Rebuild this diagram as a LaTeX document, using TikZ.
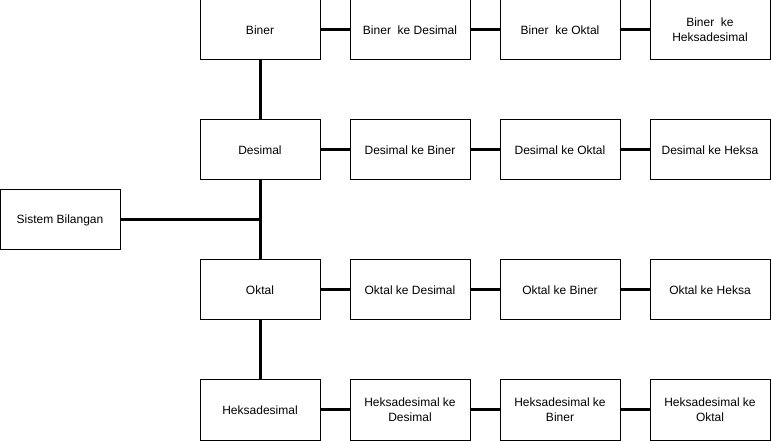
\documentclass[tikz,border=0pt]{standalone}
\usepackage{fontspec}
\setmainfont{Liberation Sans}
\usetikzlibrary{positioning}

\begin{document}
\begin{tikzpicture}[x=0.75pt, y=-0.75pt,
    box/.style={rectangle, draw=black, line width=0.75pt, minimum width=90pt, minimum height=45pt, align=center, font=\fontsize{9}{11}\selectfont, inner sep=1pt},
    link/.style={line width=2.25pt, black}
]
\useasboundingbox (0,0) rectangle (771,441);

% Root
\node[box] (sistem) at (60,220) {Sistem Bilangan};

% Main column
\node[box] (biner) at (260,30) {Biner};
\node[box] (desimal) at (260,150) {Desimal};
\node[box] (oktal) at (260,290) {Oktal};
\node[box] (heksa) at (260,410) {Heksadesimal};

% Biner row
\node[box] (binerdes) at (410,30) {Biner~ ke Desimal};
\node[box] (binerokt) at (560,30) {Biner~ ke Oktal};
\node[box] (binerhex) at (710,30) {Biner~ ke\\Heksadesimal};

% Desimal row
\node[box] (desbin) at (410,150) {Desimal ke Biner};
\node[box] (desokt) at (560,150) {Desimal ke Oktal};
\node[box] (deshex) at (710,150) {Desimal ke Heksa};

% Oktal row
\node[box] (oktdes) at (410,290) {Oktal ke Desimal};
\node[box] (oktbin) at (560,290) {Oktal ke Biner};
\node[box] (okthex) at (710,290) {Oktal ke Heksa};

% Heksadesimal row
\node[box] (hexdes) at (410,410) {Heksadesimal ke\\Desimal};
\node[box] (hexbin) at (560,410) {Heksadesimal ke\\Biner};
\node[box] (hexokt) at (710,410) {Heksadesimal ke\\Oktal};

% Spine
\draw[link] (biner) -- (desimal);
\draw[link] (desimal) -- (oktal);
\draw[link] (oktal) -- (heksa);
\draw[link] (sistem.east) -- (sistem.east -| desimal.south);

% Rows
\draw[link] (biner) -- (binerdes);
\draw[link] (binerdes) -- (binerokt);
\draw[link] (binerokt) -- (binerhex);
\draw[link] (desimal) -- (desbin);
\draw[link] (desbin) -- (desokt);
\draw[link] (desokt) -- (deshex);
\draw[link] (oktal) -- (oktdes);
\draw[link] (oktdes) -- (oktbin);
\draw[link] (oktbin) -- (okthex);
\draw[link] (heksa) -- (hexdes);
\draw[link] (hexdes) -- (hexbin);
\draw[link] (hexbin) -- (hexokt);
\end{tikzpicture}
\end{document}
